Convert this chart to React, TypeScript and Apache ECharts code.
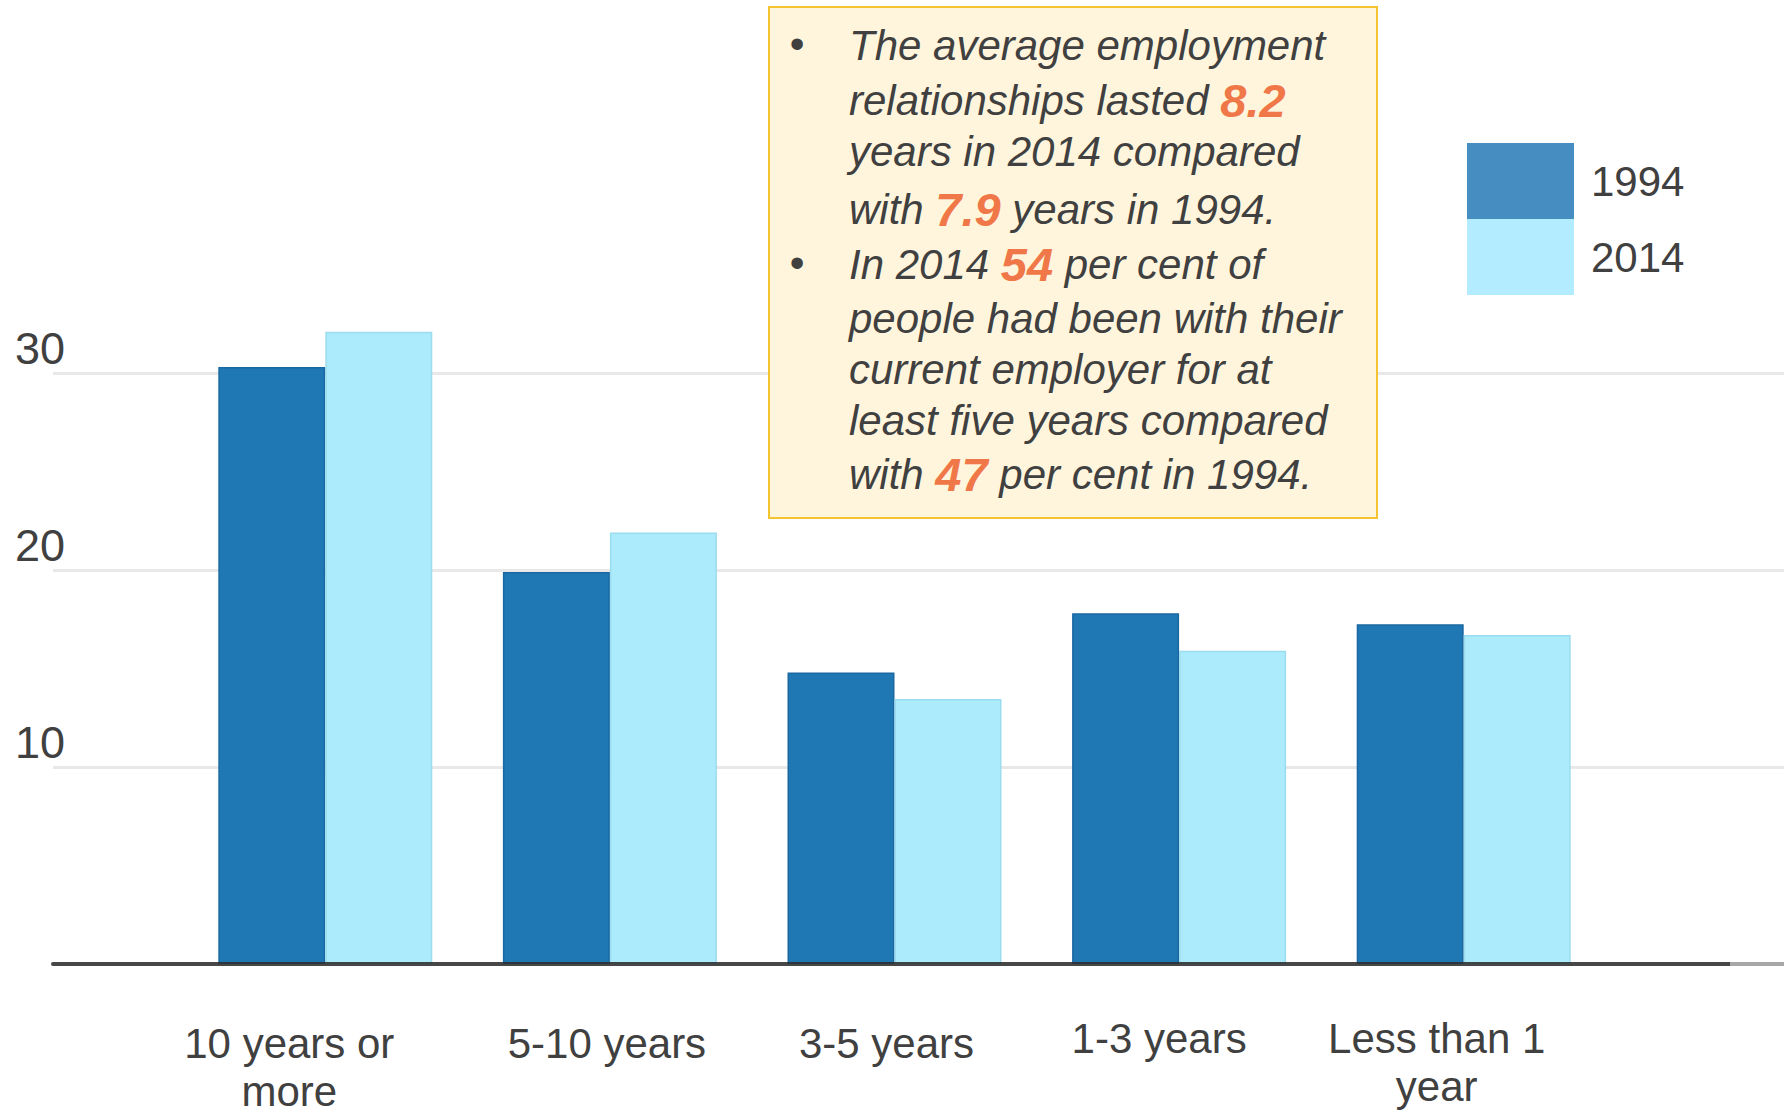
import React, { useEffect, useRef } from "react";
import * as echarts from "echarts";

const categories = ["10 years or\nmore", "5-10 years", "3-5 years", "1-3 years", "Less than 1\nyear"];
const values1994 = [30.3, 19.9, 14.8, 17.8, 17.25];
const values2014 = [32.1, 21.9, 13.45, 15.9, 16.7];
const seriesNames = ["1994", "2014"];
const yMin = 0;
const yMax = 30;
const yInterval = 10;

const noteLines = [
  "The average employment",
  "relationships lasted {b|8.2}",
  "years in 2014 compared",
  "with {b|7.9} years in 1994.",
  "In 2014 {b|54} per cent of",
  "people had been with their",
  "current employer for at",
  "least five years compared",
  "with {b|47} per cent in 1994.",
];
const bulletLineIndexes = [0, 4];

const FONT = "'Liberation Sans', Arial, Helvetica, sans-serif";
const TEXT = "#404040";

export default function App() {
  const ref = useRef<HTMLDivElement>(null);

  useEffect(() => {
    if (!ref.current) return;
    const chart = echarts.init(ref.current, undefined, { renderer: "svg" });

    // layout-only offsets for label placement (horizontal shift, extra top offset)
    const labelShiftX = [-36, -3, -8, -20, -27];
    const labelShiftY = [5, 5, 5, 0, 0];
    const categoryData = categories.map((c, i) => ({
      value: c,
      textStyle: {
        padding: [labelShiftY[i], labelShiftX[i] < 0 ? -2 * labelShiftX[i] : 0, 0, labelShiftX[i] > 0 ? 2 * labelShiftX[i] : 0],
      },
    }));

    const lineYs = [45, 100, 151, 209, 264, 318, 369, 420, 474];
    const noteGraphics: any[] = [
      {
        type: "rect",
        shape: { x: 769, y: 7, width: 608, height: 511 },
        style: { fill: "#FFF5DD", stroke: "#F4C430", lineWidth: 2 },
        z: 100,
      },
    ];
    noteLines.forEach((line, i) => {
      noteGraphics.push({
        type: "text",
        x: 849,
        y: lineYs[i],
        z: 101,
        style: {
          text: line,
          fill: TEXT,
          fontSize: 42,
          fontStyle: "italic",
          fontFamily: FONT,
          verticalAlign: "middle",
          align: "left",
          rich: {
            b: {
              fill: "#F07848",
              color: "#F07848",
              fontSize: 47,
              fontWeight: "bold",
              fontStyle: "italic",
              fontFamily: FONT,
            },
          },
        },
      });
    });
    bulletLineIndexes.forEach((i) => {
      noteGraphics.push({
        type: "text",
        x: 797,
        y: lineYs[i] - 2,
        z: 101,
        style: {
          text: "•",
          fill: TEXT,
          fontSize: 42,
          fontFamily: FONT,
          verticalAlign: "middle",
          align: "center",
        },
      });
    });
    noteGraphics.push({
      type: "line",
      shape: { x1: 1730, y1: 964, x2: 1784, y2: 964 },
      style: { stroke: "#A8A8A8", lineWidth: 4 },
      z: 50,
    });

    chart.setOption({
      animation: false,
      backgroundColor: "#ffffff",
      textStyle: { fontFamily: FONT },
      grid: [
        { left: 183, right: 178, top: 373, bottom: 151, containLabel: false, outerBoundsMode: "none" },
        { left: 53, right: 0, top: 373, bottom: 151, containLabel: false, outerBoundsMode: "none" },
      ],
      legend: {
        orient: "vertical",
        left: 1467,
        top: 143,
        padding: 0,
        itemWidth: 107,
        itemHeight: 76,
        itemGap: 0,
        selectedMode: false,
        icon: "rect",
        textStyle: { fontSize: 42, color: TEXT, fontFamily: FONT, padding: [0, 0, 0, 12] },
        data: [
          { name: seriesNames[0], itemStyle: { color: "#468DC1", borderWidth: 0 } },
          { name: seriesNames[1], itemStyle: { color: "#B3ECFE", borderWidth: 0 } },
        ],
      },
      xAxis: [
        {
          type: "category",
          gridIndex: 0,
          data: categoryData,
          axisLine: { show: false },
          axisTick: { show: false },
          splitLine: { show: false },
          axisLabel: {
            interval: 0,
            margin: 50,
            fontSize: 42,
            lineHeight: 48,
            color: TEXT,
            fontFamily: FONT,
            hideOverlap: false,
          },
        },
        {
          type: "value",
          gridIndex: 1,
          min: 0,
          max: 1,
          z: 10,
          axisLine: { show: true, lineStyle: { color: "rgba(45,45,45,0.88)", width: 4 } },
          axisTick: { show: false },
          axisLabel: { show: false },
          splitLine: { show: false },
        },
      ],
      yAxis: [
        {
          type: "value",
          gridIndex: 0,
          min: yMin,
          max: yMax,
          interval: yInterval,
          axisLine: { show: false },
          axisTick: { show: false },
          axisLabel: { show: false },
          splitLine: { show: false },
        },
        {
          type: "value",
          gridIndex: 1,
          min: yMin,
          max: yMax,
          interval: yInterval,
          axisLine: { show: false },
          axisTick: { show: false },
          splitLine: { show: true, showMinLine: false, lineStyle: { color: "#E8E8E8", width: 3 } },
          axisLabel: {
            showMinLabel: false,
            align: "left",
            margin: 38,
            fontSize: 45,
            color: TEXT,
            fontFamily: FONT,
            verticalAlign: "bottom",
            lineHeight: 50,
          },
        },
      ],
      series: [
        {
          name: seriesNames[0],
          type: "bar",
          xAxisIndex: 0,
          yAxisIndex: 0,
          data: values1994,
          barWidth: 107,
          barGap: "0%",
          clip: false,
          itemStyle: { color: "#1F77B4", borderColor: "#1A68A2", borderWidth: 1.5 },
        },
        {
          name: seriesNames[1],
          type: "bar",
          xAxisIndex: 0,
          yAxisIndex: 0,
          data: values2014,
          barWidth: 107,
          barGap: "0%",
          clip: false,
          itemStyle: { color: "#ABEBFC", borderColor: "#9CDCEF", borderWidth: 1.5 },
        },
      ],
      graphic: noteGraphics,
    });

    return () => chart.dispose();
  }, []);

  return (
    <div
      ref={ref}
      style={{ position: "fixed", left: 0, top: 0, width: 1784, height: 1115 }}
    />
  );
}
